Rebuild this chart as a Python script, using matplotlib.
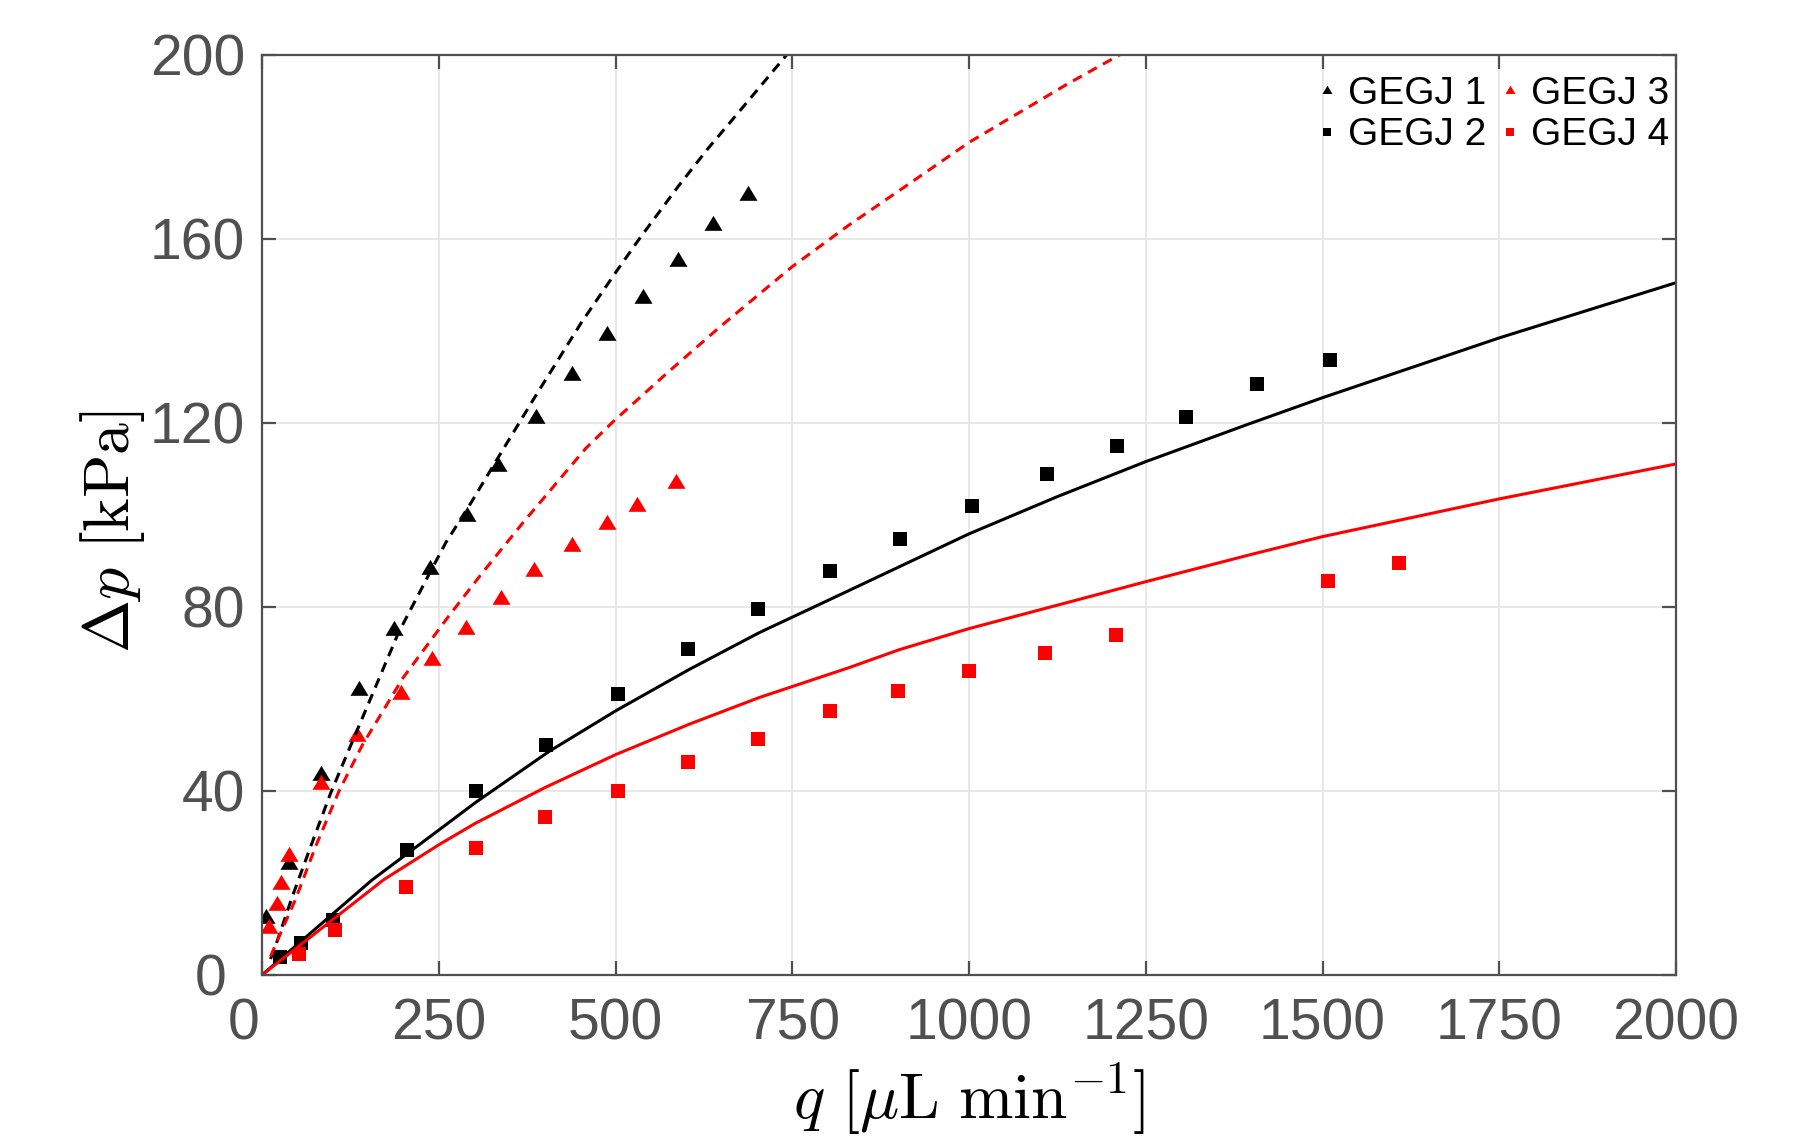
import matplotlib
matplotlib.use("Agg")
import matplotlib.pyplot as plt
import matplotlib.transforms as mtransforms

# measured points (q in uL/min, dp in kPa)
q_gegj1 = [5, 38, 83, 137, 187, 238, 290, 334, 388, 438, 488, 539, 589, 638, 688]
dp_gegj1 = [12.7, 24.3, 43.6, 62.1, 75.2, 88.5, 100.0, 110.8, 121.2, 130.6, 139.4, 147.4, 155.5, 163.2, 169.7]

q_gegj2 = [25, 55, 100, 205, 302, 402, 503, 603, 702, 803, 903, 1004, 1110, 1210, 1307, 1407, 1510]
dp_gegj2 = [4.0, 7.0, 12.0, 27.2, 39.9, 50.1, 61.0, 70.8, 79.5, 87.8, 94.8, 102.0, 108.9, 115.1, 121.3, 128.4, 133.8]

q_gegj3 = [10, 21, 27, 38, 83, 135, 197, 241, 288, 338, 385, 439, 488, 531, 585]
dp_gegj3 = [10.5, 15.5, 20.0, 26.1, 41.8, 52.1, 61.2, 68.8, 75.4, 81.9, 88.1, 93.5, 98.3, 102.2, 107.1]

q_gegj4 = [52, 103, 204, 302, 400, 503, 603, 702, 803, 899, 1000, 1108, 1208, 1508, 1608]
dp_gegj4 = [4.6, 9.8, 19.1, 27.7, 34.3, 39.9, 46.3, 51.2, 57.3, 61.7, 66.1, 69.9, 73.9, 85.7, 89.5]

# model curves
q_model1 = [12, 17, 43, 69, 97, 123, 193, 240, 260, 295, 336, 387, 452, 501, 534, 590, 631, 675, 743]
dp_model1 = [3.5, 5.4, 17.1, 28.0, 39.5, 49.0, 74.4, 88.2, 94.0, 102.5, 113.0, 125.9, 141.9, 152.9, 160.1, 171.7, 179.7, 187.7, 200.2]

q_model3 = [12, 24, 47, 76, 109, 142, 199, 264, 311, 370, 425, 458, 496, 571, 647, 750, 830, 920, 1000, 1137, 1215]
dp_model3 = [4.0, 8.3, 16.3, 28.0, 40.0, 50.0, 64.5, 78.0, 87.3, 98.5, 108.5, 114.5, 120.2, 130.6, 140.8, 154.0, 163.0, 172.5, 181.0, 193.5, 200.2]

q_model2 = [0, 156, 250, 302, 406, 500, 604, 703, 807, 1000, 1125, 1250, 1396, 1500, 1750, 2000]
dp_model2 = [0, 20.7, 31.5, 37.5, 48.6, 57.4, 66.4, 74.4, 81.9, 95.9, 104.0, 111.6, 119.8, 125.5, 138.5, 150.5]

q_model4 = [0, 172, 250, 302, 401, 500, 604, 703, 830, 901, 1000, 1250, 1396, 1500, 1750, 2000]
dp_model4 = [0, 20.7, 28.3, 33.0, 40.8, 47.9, 54.5, 60.3, 66.8, 70.7, 75.3, 85.5, 91.3, 95.3, 103.5, 111.1]

labels = ["GEGJ 1", "GEGJ 2", "GEGJ 3", "GEGJ 4"]

plt.rcParams["mathtext.fontset"] = "cm"
plt.rcParams["font.family"] = ["Liberation Sans", "DejaVu Sans"]

tri = [(-1, -0.7), (1, -0.7), (0, 0.96), (-1, -0.7)]
red = "#ff0000"
axcol = "#505050"

fig = plt.figure(figsize=(18.09, 11.39), dpi=100)
ax = fig.add_axes([262 / 1809, 1 - 975 / 1139, 1414 / 1809, 920 / 1139])

h1, = ax.plot(q_gegj1, dp_gegj1, linestyle="none", marker=tri, ms=13, color="k", mew=0)
h2, = ax.plot(q_gegj2, dp_gegj2, linestyle="none", marker="s", ms=10.5, color="k", mew=0)
h3, = ax.plot(q_gegj3, dp_gegj3, linestyle="none", marker=tri, ms=13, color=red, mew=0)
h4, = ax.plot(q_gegj4, dp_gegj4, linestyle="none", marker="s", ms=10.5, color=red, mew=0)

ax.plot(q_model1, dp_model1, color="k", lw=2.2, linestyle=(0, (3.3, 2.3)))
ax.plot(q_model3, dp_model3, color=red, lw=2.2, linestyle=(0, (3.3, 2.3)))
ax.plot(q_model2, dp_model2, color="k", lw=2.2)
ax.plot(q_model4, dp_model4, color=red, lw=2.2)

ax.set_xlim(0, 2000)
ax.set_ylim(0, 200)
ax.set_xticks(range(0, 2001, 250))
ax.set_yticks(range(0, 201, 40))
ax.grid(True, color="#e6e6e6", lw=1.3)
ax.set_axisbelow(True)
for s in ax.spines.values():
    s.set_color(axcol)
    s.set_linewidth(1.6)
ax.tick_params(direction="in", length=10, width=1.6, color=axcol, labelcolor=axcol,
               labelsize=41, top=True, right=True)
ax.tick_params(axis="x", pad=16)
ax.tick_params(axis="y", pad=12)

# the two zero labels sit a little away from the corner
fig.canvas.draw()
ax.get_xticklabels()[0].set_transform(ax.get_xticklabels()[0].get_transform()
                                      + mtransforms.ScaledTranslation(-0.185, 0, fig.dpi_scale_trans))
ax.get_yticklabels()[0].set_transform(ax.get_yticklabels()[0].get_transform()
                                      + mtransforms.ScaledTranslation(-0.19, 0, fig.dpi_scale_trans))

ax.set_xlabel(r"$q\ [\mu\mathrm{L\ min}^{-1}]$", fontsize=47, labelpad=7)
ax.set_ylabel(r"$\Delta p\ [\mathrm{kPa}]$", fontsize=46)
ax.yaxis.set_label_coords(-0.081, 0.482)

ax.legend([h1, h2, h3, h4], labels, ncol=2, frameon=False, fontsize=28,
          markerscale=0.55, handlelength=0.5, handletextpad=0.3, columnspacing=0.35,
          labelspacing=0.15, loc="upper right", bbox_to_anchor=(1.012, 1.003),
          borderaxespad=0.2)

fig.savefig("out.png", dpi=100, facecolor="white")
